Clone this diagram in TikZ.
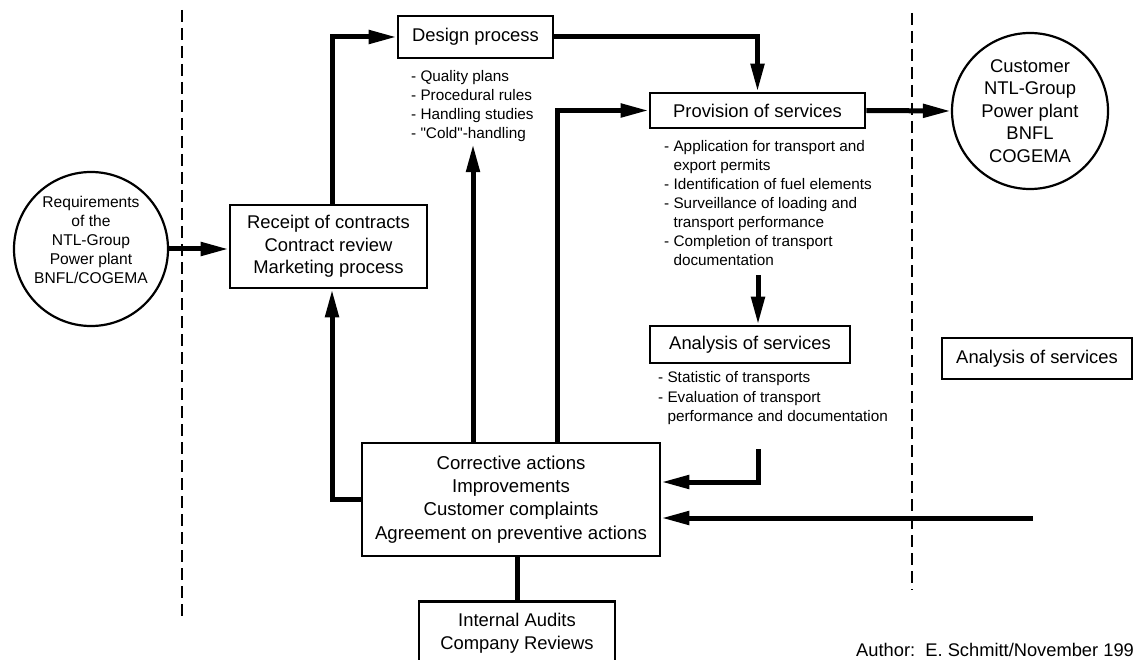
\documentclass[tikz,border=0pt]{standalone}
\usepackage{fontspec}
\setmainfont{Liberation Sans}[Ligatures=TeXOff]
\usetikzlibrary{arrows.meta}
\begin{document}
\begin{tikzpicture}[x=1pt,y=-1pt,
  box/.style={draw, line width=2.6pt, inner sep=0pt, align=center, font=\fontsize{18.4}{22.5}\selectfont},
  ring/.style={draw, circle, line width=2.2pt, inner sep=0pt},
  arr/.style={line width=5pt, -{Triangle[length=28pt,width=13pt]}},
  link/.style={line width=5pt},
  sep/.style={line width=1.1pt, dash pattern=on 12pt off 6pt},
  blist/.style={anchor=north west, inner sep=0pt, font=\fontsize{15.3}{19}\selectfont},
  plain/.style={inner sep=0pt, align=center}
]
\useasboundingbox (0,0) rectangle (1134,660);

% separators
\coordinate (ltop) at (182,10);
\coordinate (lbot) at (182,620);
\coordinate (rtop) at (912,13);
\coordinate (rbot) at (912,590);
\draw[sep] (ltop) -- (lbot);
\draw[sep] (rtop) -- (rbot);

% circles
\node[ring, minimum size=154pt] (req) at (91,249) {};
\node[plain, font=\fontsize{15.6}{19}\selectfont] (reqtext) at (91,240)
  {Requirements\\of the\\NTL-Group\\Power plant\\BNFL/COGEMA};
\node[ring, minimum size=156pt, align=center, font=\fontsize{18.4}{22.5}\selectfont] (customer) at (1030,111)
  {Customer\\NTL-Group\\Power plant\\BNFL\\COGEMA};

% boxes
\node[box, minimum width=197pt, minimum height=83pt] (receipt) at (328.5,246.5)
  {Receipt of contracts\\Contract review\\Marketing process};
\node[box, minimum width=155pt, minimum height=42pt] (design) at (475.5,37) {Design process};
\node[box, minimum width=215pt, minimum height=35pt] (provision) at (757.5,110.5) {Provision of services};
\node[box, minimum width=200pt, minimum height=37pt] (analysis) at (750,344.5) {Analysis of services};
\node[box, minimum width=190pt, minimum height=41pt] (analysis2) at (1037,358.5) {Analysis of services};
\node[box, minimum width=298pt, minimum height=113pt, font=\fontsize{18.6}{23.3}\selectfont] (corrective) at (511,499.5)
  {Corrective actions\\Improvements\\Customer complaints\\Agreement on preventive actions};
\node[box, minimum width=196pt, minimum height=64pt, anchor=north] (audit) at (517,600)
  {Internal Audits\\Company Reviews};

% bullet lists
\node[blist] (dlist) at (411,67.7) {\begin{tabular}{@{}l@{\ }l@{}}
-&Quality plans\\-&Procedural rules\\-&Handling studies\\-&"Cold"-handling\end{tabular}};
\node[blist] (plist) at (664,137.7) {\begin{tabular}{@{}l@{\ }l@{}}
-&Application for transport and\\ &export permits\\-&Identification of fuel elements\\
-&Surveillance of loading and\\ &transport performance\\-&Completion of transport\\ &documentation\end{tabular}};
\node[blist, font=\fontsize{15.3}{19.5}\selectfont] (alist) at (658,368.7) {\begin{tabular}{@{}l@{\ }l@{}}
-&Statistic of transports\\-&Evaluation of transport\\ &performance and documentation\end{tabular}};

% author
\node[anchor=west, inner sep=0pt, font=\fontsize{18.3}{22}\selectfont] (author) at (856,650)
  {Author:\ \ E. Schmitt/November 199};

% connectors
\draw[arr] (req.east) -- (req.east -| receipt.west);
\draw[arr] ([xshift=3.5pt]receipt.north) |- (design.west);
\draw[arr] (design.east) -| (provision.north);
\draw[arr] (provision.east) -- (customer.west);
\coordinate (pa) at (758,275);
\draw[arr] (pa) -- (pa |- analysis.north);
\draw[arr] ([xshift=-38pt]corrective.north) -- ([xshift=-38pt]corrective.north |- dlist.south);
\draw[arr] ([xshift=46pt]corrective.north) |- (provision.west);
\draw[arr] (corrective.west) -| ([xshift=3.5pt]receipt.south);
\coordinate (ar) at (758,449);
\draw[arr] (ar) |- ([yshift=17.5pt]corrective.east);
\coordinate (rr) at (1033,518);
\draw[arr] (rr) -- (rr -| corrective.east);
\draw[link] (audit.north) -- (audit.north |- corrective.south);
\end{tikzpicture}
\end{document}
